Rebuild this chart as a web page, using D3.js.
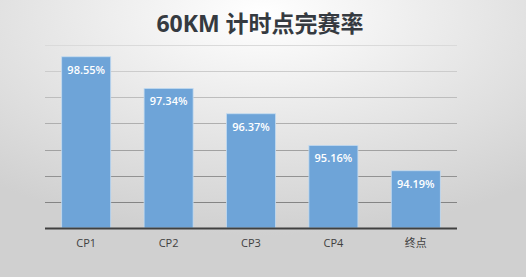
<!DOCTYPE html>
<html>
<head>
<meta charset="utf-8">
<script src="https://cdn.jsdelivr.net/npm/d3@7"></script>
<style>
  body { margin: 0; padding: 0; overflow: hidden; }
  svg { display: block; }
</style>
</head>
<body>
<script>
// chart data
var categories = ["CP1", "CP2", "CP3", "CP4", "终点"];
var rates = [98.55, 97.34, 96.37, 95.16, 94.19];
var rateLabels = ["98.55%", "97.34%", "96.37%", "95.16%", "94.19%"];
var gridTicks = [92, 93, 94, 95, 96, 97, 98, 99];
var titleText = "60KM 计时点完赛率";

var width = 526, height = 277;
var plot = { left: 45, right: 457, top: 45, bottom: 228 };

var svg = d3.select("body").append("svg")
  .attr("width", width)
  .attr("height", height);

// background: soft radial fade from white at the top centre
var defs = svg.append("defs");
var bg = defs.append("radialGradient")
  .attr("id", "bg")
  .attr("cx", "50%").attr("cy", "5%")
  .attr("r", "80%")
  .attr("gradientUnits", "objectBoundingBox");
bg.append("stop").attr("offset", "0%").attr("stop-color", "#ffffff");
bg.append("stop").attr("offset", "100%").attr("stop-color", "#d0d0d0");

svg.append("rect")
  .attr("width", width)
  .attr("height", height)
  .attr("fill", "url(#bg)");

var x = d3.scaleBand()
  .domain(categories)
  .range([plot.left, plot.right])
  .paddingInner(0.405)
  .paddingOuter(0.2025);

var y = d3.scaleLinear()
  .domain([92, 99])
  .range([plot.bottom, plot.top]);

// gridlines get darker toward the bottom
var gridColor = d3.scaleLinear()
  .domain([99, 93])
  .range(["#dadada", "#848484"]);

svg.append("g").selectAll("line")
  .data(gridTicks.filter(function (d) { return d > 92; }))
  .enter()
  .append("line")
  .attr("x1", plot.left)
  .attr("x2", plot.right)
  .attr("y1", function (d) { return Math.round(y(d)) + 0.5; })
  .attr("y2", function (d) { return Math.round(y(d)) + 0.5; })
  .attr("stroke", function (d) { return gridColor(d); })
  .attr("stroke-width", 1.2);

// bars
svg.append("g").selectAll("rect")
  .data(rates)
  .enter()
  .append("rect")
  .attr("x", function (d, i) { return x(categories[i]); })
  .attr("y", function (d) { return y(d); })
  .attr("width", x.bandwidth())
  .attr("height", function (d) { return y(92) - y(d); })
  .attr("fill", "#6ea4d8")
  .attr("stroke", "#c4dbf0")
  .attr("stroke-width", 0.8);

// value labels inside bar tops
svg.append("g").selectAll("text")
  .data(rates)
  .enter()
  .append("text")
  .attr("x", function (d, i) { return x(categories[i]) + x.bandwidth() / 2; })
  .attr("y", function (d) { return y(d) + 17; })
  .attr("text-anchor", "middle")
  .attr("font-family", "'Open Sans', 'Liberation Sans', sans-serif")
  .attr("font-size", "11px")
  .attr("font-weight", "600")
  .attr("fill", "#ffffff")
  .text(function (d, i) { return rateLabels[i]; });

// x axis line
svg.append("line")
  .attr("x1", plot.left)
  .attr("x2", plot.right)
  .attr("y1", plot.bottom + 0.5)
  .attr("y2", plot.bottom + 0.5)
  .attr("stroke", "#404040")
  .attr("stroke-width", 2.2);

// category labels
svg.append("g").selectAll("text")
  .data(categories)
  .enter()
  .append("text")
  .attr("x", function (d) { return x(d) + x.bandwidth() / 2; })
  .attr("y", 247)
  .attr("text-anchor", "middle")
  .attr("font-family", "'Open Sans', 'Noto Sans CJK SC', sans-serif")
  .attr("font-size", "11px")
  .attr("fill", "#404040")
  .text(function (d) { return d; });

// title
svg.append("text")
  .attr("x", 260)
  .attr("y", 32)
  .attr("text-anchor", "middle")
  .attr("font-family", "'Open Sans', 'Noto Sans CJK SC', sans-serif")
  .attr("font-size", "23px")
  .attr("font-weight", "bold")
  .attr("fill", "#353a40")
  .text(titleText);
</script>
</body>
</html>
